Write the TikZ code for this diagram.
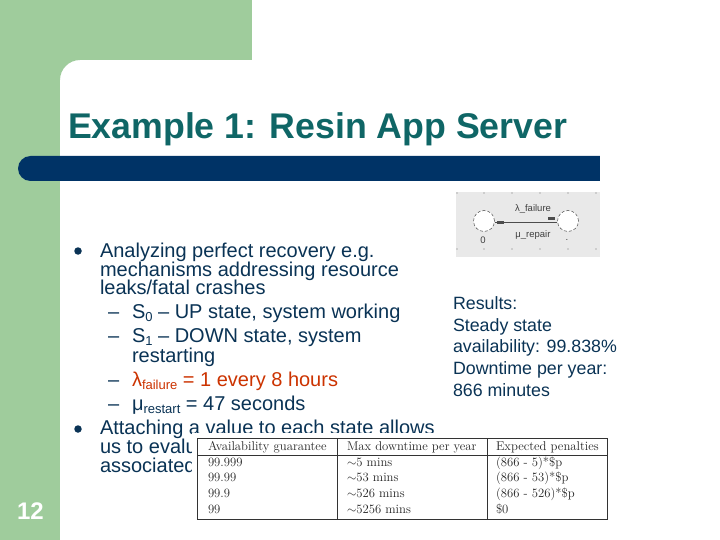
\documentclass[tikz,border=0pt]{standalone}
\usepackage{fontspec}
\newfontfamily\arialf{Liberation Sans}
\definecolor{sagegreen}{HTML}{9FCC9C}
\definecolor{navybar}{HTML}{003366}
\definecolor{titleteal}{HTML}{0F6666}
\definecolor{bodyblue}{HTML}{0A3355}
\definecolor{redtxt}{HTML}{CC3300}
\definecolor{boxgray}{HTML}{E9E9E9}
\newcommand{\lowtxt}[1]{\raisebox{-3.5pt}{\fontsize{13}{14}\selectfont #1}}
\tikzset{
  x=1pt,y=-1pt,
  lefttxt/.style={anchor=base west,inner sep=0pt,outer sep=0pt},
  bodytxt/.style={lefttxt,font=\arialf\fontsize{20}{20}\selectfont,text=bodyblue},
  restxt/.style={lefttxt,font=\arialf\fontsize{17.8}{18}\selectfont,text=bodyblue},
  celltxt/.style={lefttxt,font=\fontsize{12.7}{13}\selectfont,text=black!85},
  dashmark/.style={lefttxt,font=\arialf\fontsize{20}{20}\selectfont,text=bodyblue},
  bulletdot/.style={circle,fill=bodyblue,inner sep=0pt,minimum size=7.5pt},
  statecirc/.style={circle,draw=black!70,densely dashed,line width=0.5pt,fill=white,minimum size=21pt,inner sep=0pt},
  smalllab/.style={inner sep=0pt,font=\arialf\fontsize{9.5}{10}\selectfont,text=black!75},
  griddot/.style={circle,fill=black!55,inner sep=0pt,minimum size=1.1pt},
  tickmark/.style={fill=black!70,inner sep=0pt,minimum width=7pt,minimum height=3pt},
}
\begin{document}
\begin{tikzpicture}
\useasboundingbox (0,0) rectangle (720,540);
\fill[white] (0,0) rectangle (720,540);
% background
\fill[sagegreen] (0,0) rectangle (252,60);
\fill[sagegreen] (0,0) rectangle (60,540);
\fill[sagegreen] (60,60) -- (80,60) .. controls (69,60) and (60,69) .. (60,80) -- cycle;
\fill[navybar,rounded corners=12.5pt] (18,156) rectangle (640,181);
\fill[white] (600,150) rectangle (650,190);
% title and page number
\node[lefttxt,font=\arialf\bfseries\fontsize{35.7}{36}\selectfont,text=titleteal] (title) at (68,139) {Example 1: Resin App Server};
\node[lefttxt,font=\arialf\bfseries\fontsize{24}{24}\selectfont,text=white] (pagenum) at (17,519) {12};
% body
\node[bulletdot] (b1) at (78,251) {};
\node[bulletdot] (b2) at (78,429) {};
\node[bodytxt] (l1) at (100,257) {Analyzing perfect recovery e.g.};
\node[bodytxt] (l2) at (100,276) {mechanisms addressing resource};
\node[bodytxt] (l3) at (100,294) {leaks/fatal crashes};
\node[dashmark] (d1) at (108,318) {–};
\node[bodytxt] (l4) at (132,318) {S\lowtxt{0} – UP state, system working};
\node[dashmark] (d2) at (108,342) {–};
\node[bodytxt] (l5) at (132,342) {S\lowtxt{1} – DOWN state, system};
\node[bodytxt] (l6) at (132,362) {restarting};
\node[dashmark] (d3) at (108,386) {–};
\node[bodytxt,text=redtxt] (l7) at (132,386) {λ\lowtxt{failure} = 1 every 8 hours};
\node[dashmark] (d4) at (108,410) {–};
\node[bodytxt] (l8) at (132,410) {μ\lowtxt{restart} = 47 seconds};
\node[bodytxt] (l9) at (100,434) {Attaching a value to each state allows};
\node[bodytxt] (l10) at (100,453) {us to evalu};
\node[bodytxt] (l11) at (100,472) {associated};
% results
\node[restxt] (r1) at (453,309) {Results:};
\node[restxt] (r2) at (453,331) {Steady state};
\node[restxt] (r3) at (453,352) {availability: 99.838\%};
\node[restxt] (r4) at (453,374) {Downtime per year:};
\node[restxt] (r5) at (453,396) {866 minutes};
% state diagram
\fill[boxgray] (456,192) rectangle (600,257);
\foreach \px in {457,484,512,540,568,596}
  \foreach \py in {193,249}
    \node[griddot] at (\px,\py) {};
\node[statecirc] (s0) at (484,221) {};
\node[statecirc] (s1) at (568,221) {};
\draw[black!70,line width=0.7pt] ([yshift=-1pt]s0.east) -- ([yshift=-1pt]s1.west);
\node[tickmark] (t0) at (500.5,222.5) {};
\node[tickmark] (t1) at (551.5,219) {};
\node[smalllab] (lamlab) at (533,209) {λ\_failure};
\node[smalllab] (mulab) at (533,235) {μ\_repair};
\node[smalllab] (zero) at (483,240) {0};
\node[smalllab] (dotlab) at (567,240) {.};
% table
\fill[white] (192,432.5) rectangle (610,522);
\draw[black!80,line width=0.8pt] (197,438) rectangle (607,519);
\draw[black!80,line width=0.8pt] (197,455) -- (607,455);
\draw[black!80,line width=0.8pt] (337,438) -- (337,519);
\draw[black!80,line width=0.8pt] (487,438) -- (487,519);
\node[celltxt] (h1) at (208,450) {Availability guarantee};
\node[celltxt] (h2) at (347,450) {Max downtime per year};
\node[celltxt] (h3) at (496,450) {Expected penalties};
\node[celltxt] (a1) at (208,466) {99.999};
\node[celltxt] (a2) at (208,481) {99.99};
\node[celltxt] (a3) at (208,497) {99.9};
\node[celltxt] (a4) at (208,513) {99};
\node[celltxt] (m1) at (347,466) {$\sim$5 mins};
\node[celltxt] (m2) at (347,481) {$\sim$53 mins};
\node[celltxt] (m3) at (347,497) {$\sim$526 mins};
\node[celltxt] (m4) at (347,513) {$\sim$5256 mins};
\node[celltxt] (p1) at (496,466) {(866 - 5)*\$p};
\node[celltxt] (p2) at (496,481) {(866 - 53)*\$p};
\node[celltxt] (p3) at (496,497) {(866 - 526)*\$p};
\node[celltxt] (p4) at (496,513) {\$0};
\end{tikzpicture}
\end{document}
